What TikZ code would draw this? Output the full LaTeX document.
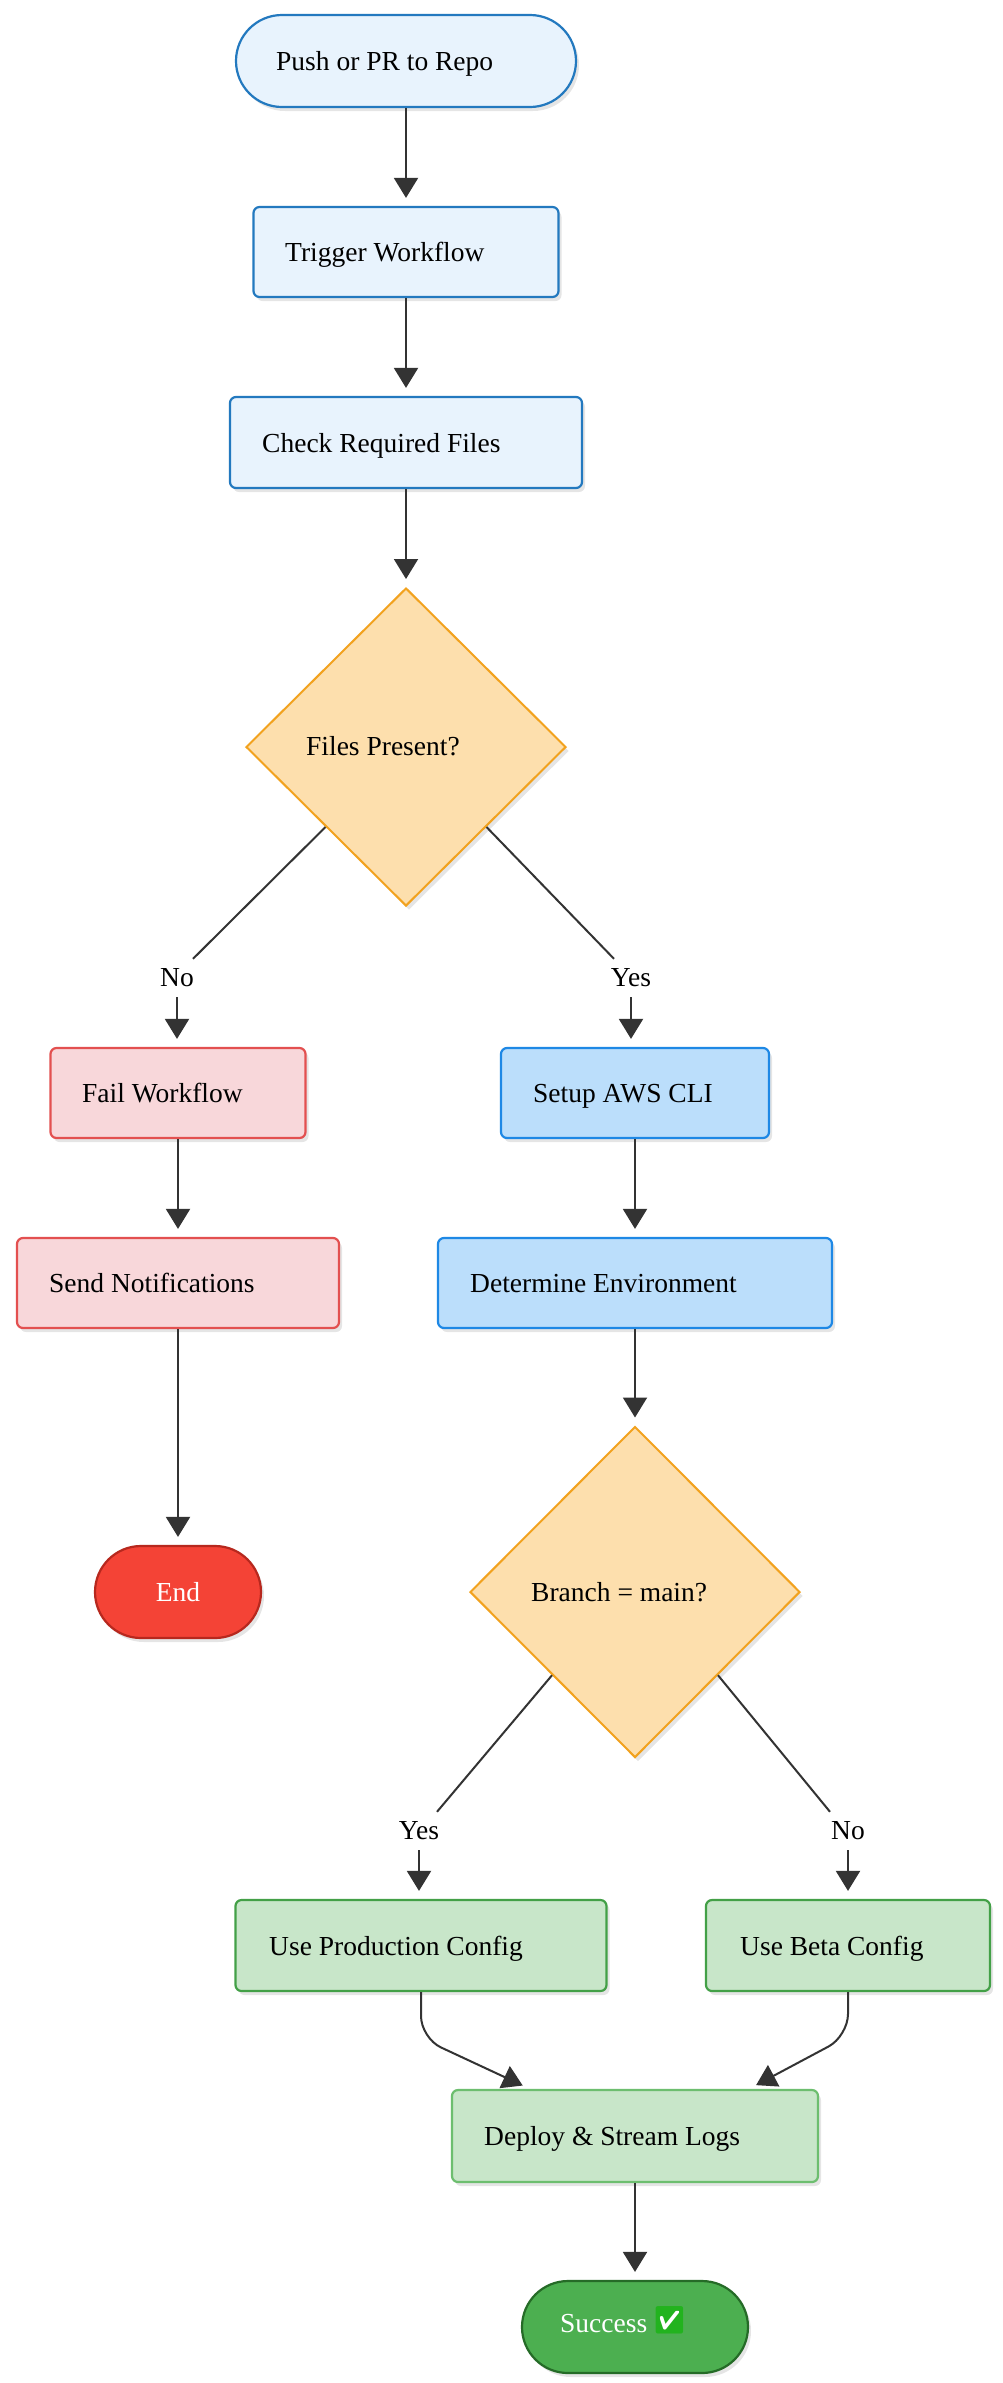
\documentclass[tikz,border=0pt]{standalone}
\usepackage{fontspec}
\setmainfont{Liberation Serif}
\newfontfamily\emojifont{Noto Emoji}
\usetikzlibrary{shapes.geometric,arrows.meta,calc,shadows}
\definecolor{lbfill}{HTML}{E8F3FD}
\definecolor{lbdraw}{HTML}{2379BF}
\definecolor{bfill}{HTML}{BBDEFB}
\definecolor{bdraw}{HTML}{1E88E5}
\definecolor{rfill}{HTML}{F8D7DA}
\definecolor{rdraw}{HTML}{E35050}
\definecolor{endfill}{HTML}{F44336}
\definecolor{enddraw}{HTML}{B7281E}
\definecolor{dfill}{HTML}{FDDFAD}
\definecolor{ddraw}{HTML}{F2A21E}
\definecolor{gfill}{HTML}{C8E6C9}
\definecolor{gdraw}{HTML}{43A047}
\definecolor{gdrawlight}{HTML}{6DBE6F}
\definecolor{sfill}{HTML}{4CAF50}
\definecolor{sdraw}{HTML}{256B27}
\definecolor{linec}{HTML}{333333}
\definecolor{checkgreen}{HTML}{22B31E}
\tikzset{
  shp/.style={draw, line width=2.2pt, inner sep=0pt,
    drop shadow={shadow xshift=3pt, shadow yshift=-4pt, opacity=0.10, fill=black}},
  boxnode/.style={shp, rectangle, rounded corners=6pt},
  pill/.style={shp, rectangle, rounded corners=46pt, minimum height=92pt},
  decision/.style={shp, diamond, line width=2pt, fill=dfill, draw=ddraw},
  lightblue/.style={fill=lbfill, draw=lbdraw},
  midblue/.style={fill=bfill, draw=bdraw},
  redbox/.style={fill=rfill, draw=rdraw},
  greenbox/.style={fill=gfill, draw=gdraw},
  txt/.style={font=\fontsize{27.5}{33}\selectfont, inner sep=0pt, text=black},
  lbl/.style={font=\fontsize{27.5}{33}\selectfont, inner sep=0pt, minimum height=38pt},
  emojiback/.style={fill=white, inner sep=0pt, minimum size=19pt},
  emojiglyph/.style={inner sep=0pt, text=checkgreen, font=\emojifont\fontsize{27}{30}\selectfont},
  conn/.style={draw=linec, line width=2pt},
  arrow/.style={conn, -{Triangle[length=20pt,width=24pt]}, shorten >=8pt},
}
\begin{document}
\begin{tikzpicture}[x=1pt,y=-1pt]
\useasboundingbox[fill=white] (0,0) rectangle (1003,2383);

% ---- shapes ----
\node[pill, lightblue, minimum width=340pt] (push) at (406,61) {};
\node[boxnode, lightblue, minimum width=305pt, minimum height=90pt] (trigger) at (406,252) {};
\node[boxnode, lightblue, minimum width=352pt, minimum height=91pt] (check) at (406,442.5) {};
\node[decision, minimum width=320pt, minimum height=318pt] (files) at (406,747) {};
\node[boxnode, redbox, minimum width=255pt, minimum height=90pt] (fail) at (178,1093) {};
\node[boxnode, midblue, minimum width=268pt, minimum height=90pt] (setup) at (635,1093) {};
\node[boxnode, redbox, minimum width=322pt, minimum height=90pt] (send) at (178,1283) {};
\node[boxnode, midblue, minimum width=394pt, minimum height=90pt] (determine) at (635,1283) {};
\node[pill, fill=endfill, draw=enddraw, minimum width=166pt] (end) at (178,1592) {};
\node[decision, minimum width=330pt, minimum height=331pt] (branch) at (635,1592) {};
\node[boxnode, greenbox, minimum width=371pt, minimum height=91pt] (prod) at (421,1945.5) {};
\node[boxnode, greenbox, minimum width=284pt, minimum height=91pt] (beta) at (848,1945.5) {};
\node[boxnode, fill=gfill, draw=gdrawlight, minimum width=366pt, minimum height=92pt] (deploy) at (635,2136) {};
\node[pill, fill=sfill, draw=sdraw, minimum width=226pt] (success) at (635,2327) {};

% ---- texts ----
\node[txt, anchor=base west] (t-push) at (276,70.5) {Push or PR to Repo};
\node[txt, anchor=base west] (t-trigger) at (285,261.5) {Trigger Workflow};
\node[txt, anchor=base west] (t-check) at (262,452) {Check Required Files};
\node[txt, anchor=base west] (t-files) at (306,755.5) {Files Present?};
\node[txt, anchor=base west] (t-fail) at (82,1102.5) {Fail Workflow};
\node[txt, anchor=base west] (t-setup) at (533,1102.5) {Setup AWS CLI};
\node[txt, anchor=base west] (t-send) at (49,1292.5) {Send Notifications};
\node[txt, anchor=base west] (t-determine) at (470,1292.5) {Determine Environment};
\node[txt, anchor=base, text=white] (t-end) at (178,1601.5) {End};
\node[txt, anchor=base west] (t-branch) at (531,1601.5) {Branch = main?};
\node[txt, anchor=base west] (t-prod) at (269,1955) {Use Production Config};
\node[txt, anchor=base west] (t-beta) at (740,1955) {Use Beta Config};
\node[txt, anchor=base west] (t-deploy) at (484,2145.5) {Deploy \& Stream Logs};
\node[txt, anchor=base west, text=white] (t-success) at (560,2332) {Success};
\node[emojiback] (emoji-bg) at (669.5,2320) {};
\node[emojiglyph] (t-emoji) at (669.5,2320) {✅};

% ---- edge labels ----
\node[lbl] (lno) at (177,978) {No};
\node[lbl] (lyes) at (631,978) {Yes};
\node[lbl] (lyes2) at (419,1831) {Yes};
\node[lbl] (lno2) at (848,1831) {No};

% ---- connectors ----
\draw[arrow] (push.south) -- (trigger.north);
\draw[arrow] (trigger.south) -- (check.north);
\draw[arrow] (check.south) -- (files.north);
\draw[conn] ($(files.west)!0.5!(files.south)$) -- ($(lno.north)+(16,0)$);
\draw[arrow] (lno.south) -- (lno.south |- fail.north);
\draw[conn] ($(files.east)!0.5!(files.south)$) -- ($(lyes.north)+(-17,0)$);
\draw[arrow] (lyes.south) -- (lyes.south |- setup.north);
\draw[arrow] (fail.south) -- (send.north);
\draw[arrow] (send.south) -- (end.north);
\draw[arrow] (setup.south) -- (determine.north);
\draw[arrow] (determine.south) -- (branch.north);
\draw[conn] ($(branch.west)!0.5!(branch.south)$) -- ($(lyes2.north)+(18,0)$);
\draw[arrow] (lyes2.south) -- (lyes2.south |- prod.north);
\draw[conn] ($(branch.east)!0.5!(branch.south)$) -- ($(lno2.north)+(-18,0)$);
\draw[arrow] (lno2.south) -- (lno2.south |- beta.north);
\coordinate (dinL) at ($(deploy.north)+(-105,0)$);
\coordinate (dinR) at ($(deploy.north)+(114,0)$);
\draw[arrow, rounded corners=22pt] (prod.south) -- ++(0,46) -- (dinL);
\draw[arrow, rounded corners=22pt] (beta.south) -- ++(0,44) -- (dinR);
\draw[arrow] (deploy.south) -- (success.north);
\end{tikzpicture}
\end{document}
